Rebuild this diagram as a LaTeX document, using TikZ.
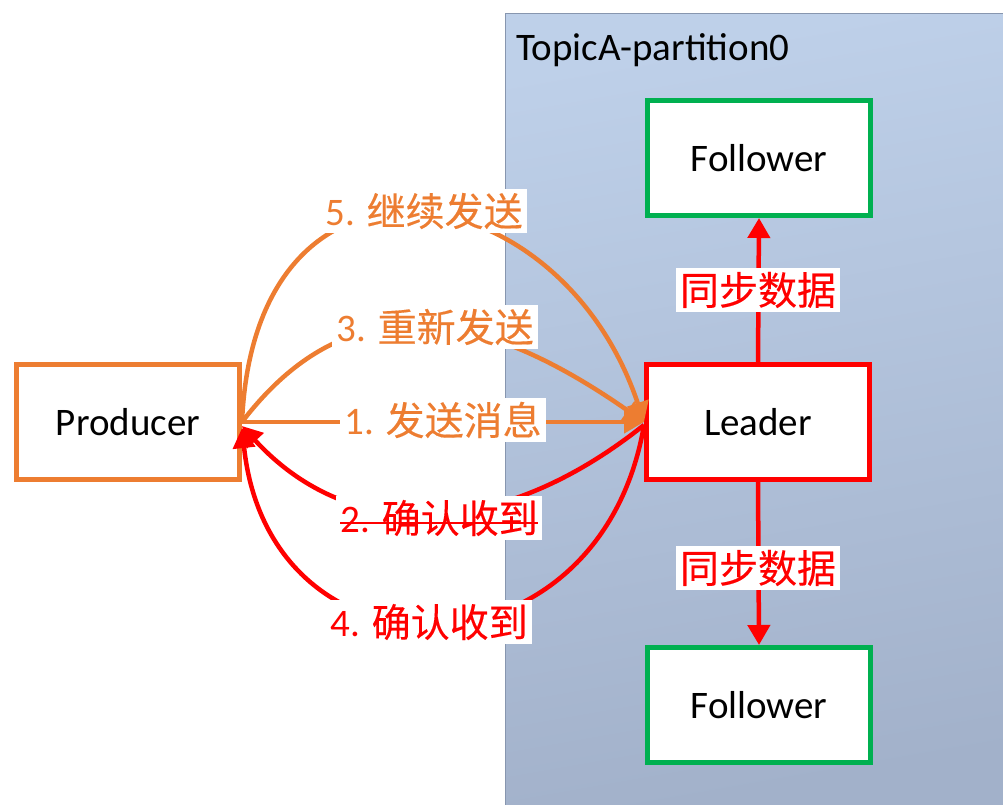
\documentclass[tikz,border=0pt]{standalone}
\usepackage{fontspec}
\setmainfont{Carlito}
\newfontfamily\cjk[FakeBold=0.3]{Noto Sans CJK SC}
\usetikzlibrary{arrows.meta}
\definecolor{korange}{RGB}{237,125,49}
\definecolor{kred}{RGB}{255,0,0}
\definecolor{kgreen}{RGB}{0,176,80}
\definecolor{paneltop}{RGB}{190,208,233}
\definecolor{panelbot}{RGB}{162,177,202}
\definecolor{panelline}{RGB}{135,150,175}
\begin{document}
\begin{tikzpicture}[x=1pt,y=-1pt,
  bigfont/.style={font=\fontsize{39}{46}\selectfont},
  box/.style={draw, fill=white, line width=5pt, minimum width=223pt,
    minimum height=115pt, inner sep=0pt, bigfont},
  msg/.style={fill=white, inner sep=4pt, bigfont},
  link/.style={line width=4.5pt, -{Triangle[length=20pt,width=22pt]}},
]
\useasboundingbox (0,0) rectangle (1003,805);

% partition panel
\shade[top color=paneltop, bottom color=panelbot, shading angle=10]
  (505,14) rectangle (1010,812);
\draw[panelline, line width=1pt] (1010,14) -- (505,14) -- (505,812);
\node[anchor=base west, inner sep=0pt, bigfont] (topic) at (516,61) {TopicA-partition0};

% boxes
\node[box, draw=korange] (prod) at (128,422) {Producer};
\node[box, draw=kred] (lead) at (758,422) {Leader};
\node[box, draw=kgreen] (f1) at (759,158) {Follower};
\node[box, draw=kgreen] (f2) at (759,705) {Follower};

% replication
\draw[link, kred] (lead.north) -- (f1.south);
\draw[link, kred] (lead.south) -- (f2.north);

% produce / acknowledge exchange
\draw[link, korange] (prod.east) .. controls +(13,-302) and +(-84,-252) .. (lead.west);
\draw[link, korange] (prod.east) .. controls +(101,-132) and +(-174,-122) .. (lead.west);
\draw[link, korange] (prod.east) -- (lead.west);
\draw[link, kred] ([yshift=-3pt]lead.west) .. controls +(-144,115) and +(108,118) .. ([yshift=-4pt]prod.east);
\draw[link, kred] ([yshift=-3pt]lead.west) .. controls +(-44,260) and +(28,263) .. ([yshift=-6pt]prod.east);

% labels
\node[msg, text=korange] (l5) at (424,211) {5. {\cjk 继续发送}};
\node[msg, text=korange] (l3) at (435,327) {3. {\cjk 重新发送}};
\node[msg, text=korange] (l1) at (443,420) {1. {\cjk 发送消息}};
\node[msg, text=kred] (l2) at (439,518) {2. {\cjk 确认收到}};
\node[msg, text=kred] (l4) at (429,622) {4. {\cjk 确认收到}};
\draw[kred, line width=1.2pt] ([xshift=4pt,yshift=-5pt]l2.west) -- ([xshift=-4pt,yshift=-5pt]l2.east);
\node[msg, text=kred] (s1) at (758,290) {\cjk 同步数据};
\node[msg, text=kred] (s2) at (758,568) {\cjk 同步数据};
\end{tikzpicture}
\end{document}
